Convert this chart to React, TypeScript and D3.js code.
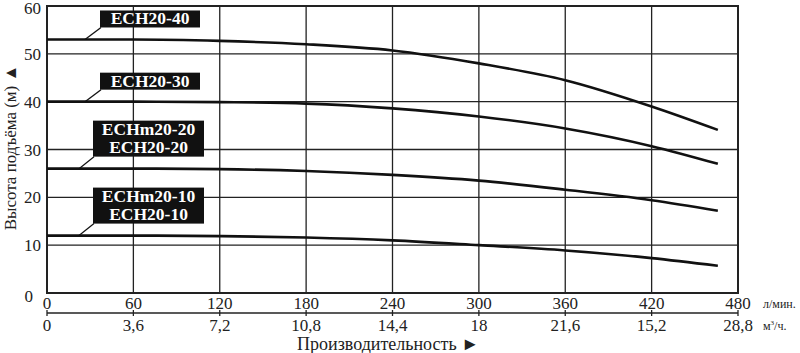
import React from 'react';
import * as d3 from 'd3';

// flow points in l/min where the curves were read
const flow = [0, 60, 120, 180, 240, 300, 360, 420, 466];

const ech40 = [53, 53, 52.7, 52, 50.7, 48, 44.5, 39, 34.1];
const ech30 = [40, 40, 39.9, 39.6, 38.6, 36.9, 34.4, 30.7, 27];
const ech20 = [26, 26, 25.9, 25.5, 24.7, 23.5, 21.6, 19.4, 17.2];
const ech10 = [12, 12, 11.9, 11.6, 11, 10, 8.9, 7.3, 5.7];

const xTicks = [0, 60, 120, 180, 240, 300, 360, 420, 480];
const m3Labels = ['0', '3,6', '7,2', '10,8', '14,4', '18', '21,6', '15,2', '28,8'];
const yTicks = [0, 10, 20, 30, 40, 50, 60];

const series = [
  { values: ech40, label: ['ECH20-40'] },
  { values: ech30, label: ['ECH20-30'] },
  { values: ech20, label: ['ECHm20-20', 'ECH20-20'] },
  { values: ech10, label: ['ECHm20-10', 'ECH20-10'] },
];

const FONT = "'Liberation Serif', 'Times New Roman', 'DejaVu Serif', serif";

export default function App() {
  const width = 800;
  const height = 353;
  const left = 47, right = 738, top = 6, bottom = 293;

  const x = d3.scaleLinear().domain([0, 480]).range([left, right]);
  const y = d3.scaleLinear().domain([0, 60]).range([bottom, top]);

  const line = d3.line<number>()
    .x((_, i) => x(flow[i]))
    .y(d => y(d))
    .curve(d3.curveMonotoneX);

  const axisY = 313;

  return (
    <svg width={width} height={height}
      style={{ position: 'absolute', left: 0, top: 0, background: '#fff', fontFamily: FONT }}>
      {/* grid */}
      {xTicks.map(t => (
        <line key={'vx' + t} x1={x(t)} x2={x(t)} y1={top} y2={bottom} stroke="#222" strokeWidth={1.3} />
      ))}
      {yTicks.map(t => (
        <line key={'hy' + t} x1={left} x2={right} y1={y(t)} y2={y(t)} stroke="#222" strokeWidth={1.3} />
      ))}
      <rect x={left} y={top} width={right - left} height={bottom - top} fill="none" stroke="#222" strokeWidth={2} />

      {/* curves */}
      {series.map((s, i) => (
        <path key={'c' + i} d={line(s.values) || ''} fill="none" stroke="#111" strokeWidth={2.6} />
      ))}

      {/* labels */}
      {series.map((s, i) => {
        const v = s.values[0];
        const two = s.label.length > 1;
        const bx = two ? 93 : 100;
        const bw = two ? 111 : 100;
        const bh = two ? 36 : 17;
        const by = y(v) - (two ? 12 : 12) - bh;
        const lx = two ? 79 : 85;
        return (
          <g key={'l' + i}>
            <line x1={lx} y1={y(v)} x2={bx + 1} y2={by + bh} stroke="#111" strokeWidth={1.3} />
            <rect x={bx} y={by} width={bw} height={bh} fill="#111" />
            {s.label.map((t, j) => (
              <text key={j} x={bx + bw / 2} y={by + 14 + j * 18} fill="#fff" fontWeight="bold"
                fontSize={17.5} textAnchor="middle">{t}</text>
            ))}
          </g>
        );
      })}

      {/* y tick labels */}
      {yTicks.map(t => (
        <text key={'yl' + t} x={t === 0 ? 33 : 41} y={y(t) + (t === 0 ? 9 : t === 60 ? 8 : 6)} fontSize={17} textAnchor="end" fill="#222">{t}</text>
      ))}
      <text transform={`translate(16,${(top + bottom) / 2 - 2}) rotate(-90)`} fontSize={17} textAnchor="middle" fill="#222">
        Высота подъёма (м) ▲
      </text>

      {/* bottom axes */}
      {xTicks.map(t => (
        <text key={'xl' + t} x={x(t)} y={309} fontSize={17} textAnchor="middle" fill="#222">{t}</text>
      ))}
      <text x={763} y={308} fontSize={12} fill="#222">л/мин.</text>
      <line x1={left} x2={right} y1={axisY} y2={axisY} stroke="#222" strokeWidth={1.3} />
      {xTicks.map((t, i) => (
        <g key={'m' + t}>
          <line x1={x(t)} x2={x(t)} y1={axisY - 3} y2={axisY + 3} stroke="#222" strokeWidth={1.3} />
          <text x={x(t)} y={331} fontSize={17} textAnchor="middle" fill="#222">{m3Labels[i]}</text>
        </g>
      ))}
      <text x={763} y={330} fontSize={12} fill="#222">м<tspan dy={-5} fontSize={7}>3</tspan><tspan dy={5}>/ч.</tspan></text>
      <text x={388} y={350} fontSize={18} textAnchor="middle" fill="#222">Производительность ►</text>
    </svg>
  );
}
